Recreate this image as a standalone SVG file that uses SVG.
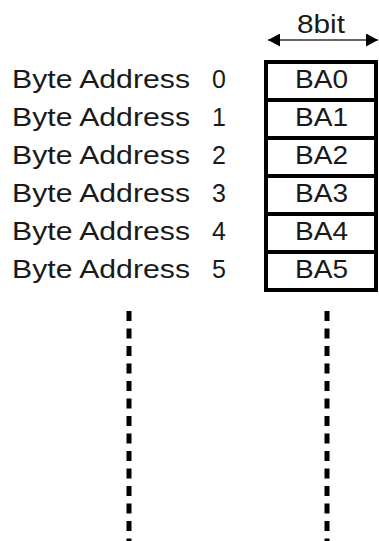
<svg xmlns="http://www.w3.org/2000/svg" width="379" height="541" viewBox="0 0 379 541">
  <style>
    .t { font-family: "Liberation Sans", Arial, sans-serif; font-size: 25px; fill: #1a1a1a; }
    .cell { fill: #ffffff; stroke: #000000; stroke-width: 4; }
    .dots { stroke: #000000; stroke-width: 5; stroke-dasharray: 10 7.5; fill: none; }
  </style>
  <defs>
    <marker id="ah" viewBox="0 0 12 13" refX="12" refY="6.5" markerWidth="12" markerHeight="13" markerUnits="userSpaceOnUse" orient="auto-start-reverse">
      <path d="M0,0 L12,6.5 L0,13 Z" fill="#000000"/>
    </marker>
  </defs>
  <rect width="379" height="541" fill="#ffffff"/>

  <g id="width-label">
    <line x1="268" y1="40" x2="378" y2="40" stroke="#333" stroke-width="1.5" marker-start="url(#ah)" marker-end="url(#ah)"/>
    <text class="t" x="297" y="33" textLength="48" lengthAdjust="spacingAndGlyphs">8bit</text>
  </g>

  <g id="labels">
    <g id="label0"><text class="t" x="12" y="88" textLength="178" lengthAdjust="spacingAndGlyphs">Byte Address</text><text class="t" x="212" y="88">0</text></g>
    <g id="label1"><text class="t" x="12" y="126" textLength="178" lengthAdjust="spacingAndGlyphs">Byte Address</text><text class="t" x="212" y="126">1</text></g>
    <g id="label2"><text class="t" x="12" y="164" textLength="178" lengthAdjust="spacingAndGlyphs">Byte Address</text><text class="t" x="212" y="164">2</text></g>
    <g id="label3"><text class="t" x="12" y="202" textLength="178" lengthAdjust="spacingAndGlyphs">Byte Address</text><text class="t" x="212" y="202">3</text></g>
    <g id="label4"><text class="t" x="12" y="240" textLength="178" lengthAdjust="spacingAndGlyphs">Byte Address</text><text class="t" x="212" y="240">4</text></g>
    <g id="label5"><text class="t" x="12" y="278" textLength="178" lengthAdjust="spacingAndGlyphs">Byte Address</text><text class="t" x="212" y="278">5</text></g>
  </g>

  <g id="BA0"><rect class="cell" x="266" y="62" width="110" height="38"/><text class="t" x="295" y="88" textLength="53" lengthAdjust="spacingAndGlyphs">BA0</text></g>
  <g id="BA1"><rect class="cell" x="266" y="100" width="110" height="38"/><text class="t" x="295" y="126" textLength="53" lengthAdjust="spacingAndGlyphs">BA1</text></g>
  <g id="BA2"><rect class="cell" x="266" y="138" width="110" height="38"/><text class="t" x="295" y="164" textLength="53" lengthAdjust="spacingAndGlyphs">BA2</text></g>
  <g id="BA3"><rect class="cell" x="266" y="176" width="110" height="38"/><text class="t" x="295" y="202" textLength="53" lengthAdjust="spacingAndGlyphs">BA3</text></g>
  <g id="BA4"><rect class="cell" x="266" y="214" width="110" height="38"/><text class="t" x="295" y="240" textLength="53" lengthAdjust="spacingAndGlyphs">BA4</text></g>
  <g id="BA5"><rect class="cell" x="266" y="252" width="110" height="38"/><text class="t" x="295" y="278" textLength="53" lengthAdjust="spacingAndGlyphs">BA5</text></g>

  <g id="connectors">
    <line class="dots" x1="129" y1="311" x2="129" y2="545"/>
    <line class="dots" x1="327" y1="311" x2="327" y2="545"/>
  </g>
</svg>
